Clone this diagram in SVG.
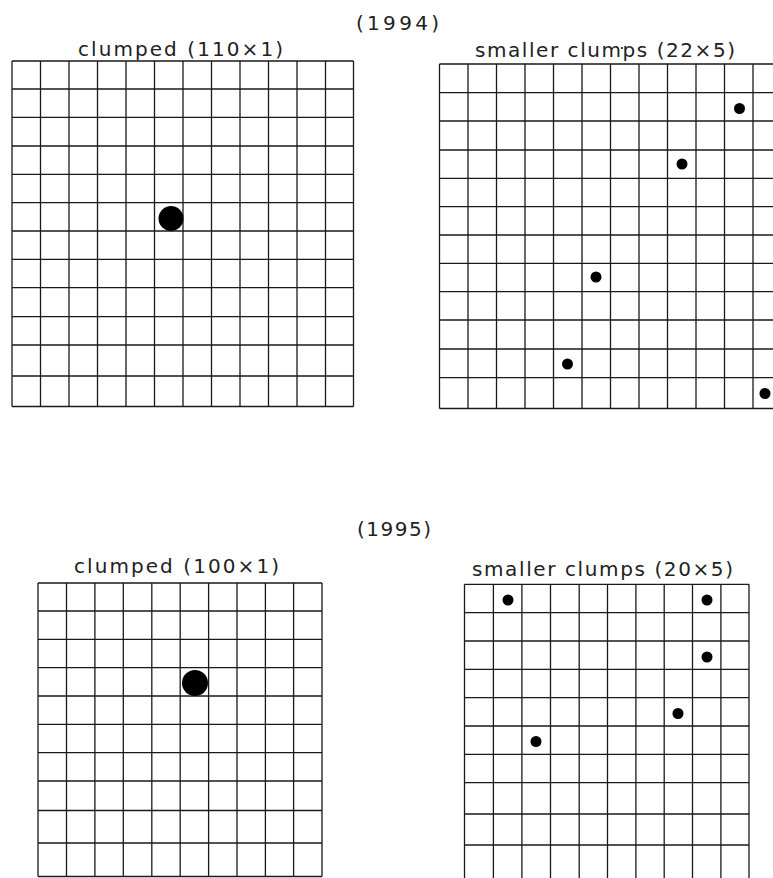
<svg xmlns="http://www.w3.org/2000/svg" width="773" height="878" viewBox="0 0 773 878">
<style>
.bg{fill:#ffffff}
.grid{fill:none;stroke:#1a1a1a;stroke-width:1.3}
.lbl{font-family:"DejaVu Sans","Liberation Sans",Arial,sans-serif;font-size:20px;fill:#222}
.big{fill:#000}
.small{fill:#000}
</style>
<rect class="bg" x="0" y="0" width="773" height="878"/>

<g id="year1994">
<text class="lbl" x="356" y="30" textLength="83" lengthAdjust="spacing">(1994)</text>
</g>

<g id="panel-1994-clumped">
<text class="lbl" x="78" y="56" textLength="205" lengthAdjust="spacing">clumped (110×1)</text>
<path class="grid" d="M12,61H353.5 M12,89H353.5 M12,117.3H353.5 M12,146H353.5 M12,174.3H353.5 M12,202.7H353.5 M12,231H353.5 M12,259.3H353.5 M12,287.7H353.5 M12,316.7H353.5 M12,345H353.5 M12,376H353.5 M12,406.5H353.5
M12,61V406.5 M40.5,61V406.5 M69,61V406.5 M97.5,61V406.5 M126,61V406.5 M154.5,61V406.5 M183,61V406.5 M211.5,61V406.5 M240,61V406.5 M268.5,61V406.5 M297,61V406.5 M325.5,61V406.5 M353.5,61V406.5"/>
<circle class="big" cx="171" cy="218.5" r="12.5"/>
</g>

<g id="panel-1994-smaller">
<text class="lbl" x="475" y="56.5" textLength="260" lengthAdjust="spacing">smaller clumps (22×5)</text>
<path class="grid" d="M439.5,64H773 M439.5,92.7H773 M439.5,121H773 M439.5,150H773 M439.5,178.3H773 M439.5,206.7H773 M439.5,235H773 M439.5,263.3H773 M439.5,291.7H773 M439.5,320H773 M439.5,349H773 M439.5,377.7H773 M439.5,408.5H773
M439.5,64V408.5 M468,64V408.5 M496.5,64V408.5 M525,64V408.5 M553.5,64V408.5 M582,64V408.5 M610.5,64V408.5 M639,64V408.5 M667.5,64V408.5 M696,64V408.5 M724.5,64V408.5 M753,64V408.5"/>
<circle class="small" cx="739.5" cy="108.5" r="5.5"/>
<circle class="small" cx="682" cy="164" r="5.5"/>
<circle class="small" cx="596" cy="277" r="5.5"/>
<circle class="small" cx="567.5" cy="364" r="5.5"/>
<circle class="small" cx="765" cy="393.5" r="5.5"/>
<circle class="small" cx="622" cy="48" r="1"/>
</g>

<g id="year1995">
<text class="lbl" x="357" y="536" textLength="74" lengthAdjust="spacing">(1995)</text>
</g>

<g id="panel-1995-clumped">
<text class="lbl" x="74" y="573" textLength="205" lengthAdjust="spacing">clumped (100×1)</text>
<path class="grid" d="M38,583H322 M38,611H322 M38,639.3H322 M38,667.7H322 M38,696H322 M38,724.3H322 M38,752.7H322 M38,781H322 M38,810.5H322 M38,843H322 M38,876.5H322
M38,583V876.5 M66.5,583V876.5 M94.9,583V876.5 M123.3,583V876.5 M151.8,583V876.5 M180.2,583V876.5 M208.6,583V876.5 M237,583V876.5 M265.4,583V876.5 M293.6,583V876.5 M322,583V876.5"/>
<circle class="big" cx="195" cy="683" r="13"/>
</g>

<g id="panel-1995-smaller">
<text class="lbl" x="472" y="576" textLength="261" lengthAdjust="spacing">smaller clumps (20×5)</text>
<path class="grid" d="M464.5,584.3H749 M464.5,612.7H749 M464.5,641H749 M464.5,669.3H749 M464.5,697.7H749 M464.5,726H749 M464.5,754.3H749 M464.5,782.7H749 M464.5,814H749 M464.5,845H749
M464.5,584.3V878 M493.4,584.3V878 M521.9,584.3V878 M550.5,584.3V878 M579.2,584.3V878 M607.5,584.3V878 M635.9,584.3V878 M664.2,584.3V878 M692.5,584.3V878 M720.9,584.3V878 M749,584.3V878"/>
<circle class="small" cx="508" cy="600" r="5.5"/>
<circle class="small" cx="707" cy="600" r="5.5"/>
<circle class="small" cx="707" cy="657" r="5.5"/>
<circle class="small" cx="678" cy="713.5" r="5.5"/>
<circle class="small" cx="536" cy="741.5" r="5.5"/>
</g>
</svg>
